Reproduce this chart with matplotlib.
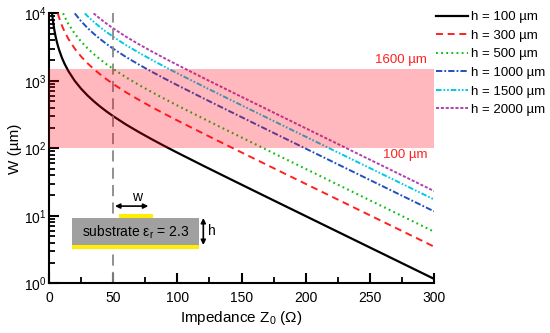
import matplotlib
matplotlib.use("Agg")
import matplotlib.pyplot as plt
from matplotlib.patches import Rectangle

plt.rcParams['font.family'] = ['Liberation Sans', 'DejaVu Sans']
plt.rcParams['mathtext.fontset'] = 'custom'
plt.rcParams['mathtext.rm'] = 'Liberation Sans'
plt.rcParams['mathtext.it'] = 'Liberation Sans:italic'
plt.rcParams['lines.scale_dashes'] = False

# ---- data ----
z_h100 = [2.4, 3, 4, 5, 6, 7, 8, 10, 12, 15, 20, 25, 30, 35, 40, 45, 50, 60, 70, 80, 90,
          100, 120, 140, 160, 180, 200, 225, 250, 275, 300]
w_h100 = [10000, 7958, 5900, 4667, 3847, 3262, 2825, 2213, 1807, 1403, 1002, 764.1, 607.0,
          495.8, 413.3, 349.8, 299.5, 225.3, 174.2, 136.5, 108.1, 86.2, 55.46, 35.94, 23.37,
          15.21, 9.911, 5.803, 3.397, 1.990, 1.165]

z_h300 = [6.86, 7, 8, 10, 12, 15, 20, 25, 30, 35, 40, 45, 50, 60, 70, 80, 90,
          100, 120, 140, 160, 180, 200, 225, 250, 275, 300]
w_h300 = [10000, 9786, 8475, 6639, 5421, 4209, 3006, 2292, 1821, 1487, 1240, 1049, 898.5,
          675.9, 522.6, 409.4, 324.3, 258.6, 166.4, 107.8, 70.11, 45.64, 29.73, 17.41, 10.19,
          5.97, 3.495]

z_h500 = [10.97, 12, 15, 20, 25, 30, 35, 40, 45, 50, 60, 70, 80, 90,
          100, 120, 140, 160, 180, 200, 225, 250, 275, 300]
w_h500 = [10000, 9035, 7015, 5010, 3821, 3035, 2479, 2067, 1749, 1498, 1127, 871, 682.4,
          540.5, 431.0, 277.3, 179.7, 116.9, 76.07, 49.56, 29.01, 16.99, 9.95, 5.825]

z_h1000 = [20.05, 25, 30, 35, 40, 45, 50, 60, 70, 80, 90,
           100, 120, 140, 160, 180, 200, 225, 250, 275, 300]
w_h1000 = [10000, 7641, 6070, 4958, 4133, 3498, 2995, 2253, 1742, 1365, 1081, 862.0, 554.6,
           359.4, 233.7, 152.1, 99.11, 58.03, 33.97, 19.90, 11.65]

z_h1500 = [27.87, 30, 35, 40, 45, 50, 60, 70, 80, 90,
           100, 120, 140, 160, 180, 200, 225, 250, 275, 300]
w_h1500 = [10000, 9105, 7437, 6200, 5247, 4493, 3380, 2613, 2047, 1622, 1293, 831.9, 539.1,
           350.6, 228.2, 148.7, 87.05, 50.96, 29.85, 17.48]

z_h2000 = [34.78, 35, 40, 45, 50, 60, 70, 80, 90,
           100, 120, 140, 160, 180, 200, 225, 250, 275, 300]
w_h2000 = [10000, 9916, 8266, 6995, 5990, 4506, 3484, 2730, 2162, 1724, 1109, 718.8, 467.4,
           304.3, 198.2, 116.1, 67.94, 39.80, 23.30]

labels = ["h = 100 µm", "h = 300 µm", "h = 500 µm", "h = 1000 µm", "h = 1500 µm", "h = 2000 µm"]
band_low, band_high = 100, 1500
band_labels = ["1600 µm", "100 µm"]
z_ref = 50

x_ticks = [0, 50, 100, 150, 200, 250, 300]
x_minor = [25, 75, 125, 175, 225, 275]

# ---- styling ----
series = [
    (z_h100, w_h100, 'black', '-', 1.6),
    (z_h300, w_h300, '#ff2020', (0, (5.0, 3.4)), 1.4),
    (z_h500, w_h500, '#10c010', (0, (1.3, 2.4)), 1.5),
    (z_h1000, w_h1000, '#1f50c0', (0, (4.5, 1.5, 1.3, 1.5)), 1.4),
    (z_h1500, w_h1500, '#00c8e8', (0, (4.0, 1.4, 1.2, 1.4, 1.2, 1.4)), 1.4),
    (z_h2000, w_h2000, '#b040b0', (0, (2.2, 1.3)), 1.4),
]

fig = plt.figure(figsize=(5.5, 3.33), dpi=100)
ax = fig.add_axes([0.0891, 0.1492, 0.700, 0.8108])

for (z, w, c, ls, lw), lab in zip(series, labels):
    ax.plot(z, w, color=c, linestyle=ls, lw=lw, label=lab, zorder=2)

ax.axvline(z_ref, color='#888888', lw=1.3, linestyle=(0, (8, 4.5)), zorder=2)
ax.axhspan(band_low, band_high, color='#ff0014', alpha=0.28, lw=0, zorder=3)

ax.set_yscale('log')
ax.set_xlim(0, 300)
ax.set_ylim(1, 1e4)
ax.set_xticks(x_ticks)
ax.set_xticks(x_minor, minor=True)

for s in ['top', 'right']:
    ax.spines[s].set_visible(False)
for s in ['left', 'bottom']:
    ax.spines[s].set_linewidth(1.5)

ax.tick_params(axis='both', which='major', direction='in', length=7, width=1.5, labelsize=10)
ax.tick_params(axis='both', which='minor', direction='in', length=4.5, width=1.3)
ax.tick_params(axis='x', which='major', pad=5.5)
ax.tick_params(axis='y', which='major', pad=1.5)

ax.set_xlabel("Impedance Z$_\\mathregular{0}$ (Ω)", fontsize=11, labelpad=3)
ax.set_ylabel("W (µm)", fontsize=11, labelpad=2)

ax.text(0.982, 0.827, band_labels[0], color='#ff2020', fontsize=9.5,
        ha='right', va='center', transform=ax.transAxes, zorder=5)
ax.text(0.982, 0.475, band_labels[1], color='#ff2020', fontsize=9.5,
        ha='right', va='center', transform=ax.transAxes, zorder=5)

# substrate sketch
T = ax.transAxes
ax.add_patch(Rectangle((0.0605, 0.1419), 0.3299, 0.0988, facecolor='#a0a0a0',
                       edgecolor='none', transform=T, zorder=4))
ax.add_patch(Rectangle((0.0605, 0.1289), 0.3299, 0.0130, facecolor='#ffee00',
                       edgecolor='none', transform=T, zorder=4))
ax.add_patch(Rectangle((0.1818, 0.2407), 0.0891, 0.0149, facecolor='#ffee00',
                       edgecolor='none', transform=T, zorder=4))
ax.text(0.2254, 0.190, "substrate ε$_\\mathregular{r}$ = 2.3", fontsize=10,
        ha='center', va='center', transform=T, zorder=5)
ax.annotate('', xy=(0.1714, 0.286), xytext=(0.2579, 0.286), xycoords=T, textcoords=T,
            arrowprops=dict(arrowstyle='<|-|>', color='black', lw=1.2,
                            mutation_scale=7, shrinkA=0, shrinkB=0), zorder=5)
ax.text(0.2278, 0.318, "w", fontsize=10, ha='center', va='center', transform=T, zorder=5)
ax.annotate('', xy=(0.4008, 0.2419), xytext=(0.4008, 0.1419), xycoords=T, textcoords=T,
            arrowprops=dict(arrowstyle='<|-|>', color='black', lw=1.2,
                            mutation_scale=7, shrinkA=0, shrinkB=0), zorder=5)
ax.text(0.4226, 0.193, "h", fontsize=10, ha='center', va='center', transform=T, zorder=5)

leg = ax.legend(loc='upper left', bbox_to_anchor=(436 / 550, 1 - 11 / 333),
                bbox_transform=fig.transFigure, frameon=False, fontsize=9.5,
                handlelength=2.4, handletextpad=0.25, labelspacing=0.48,
                borderpad=0, borderaxespad=0)

fig.savefig("out.png", dpi=100)
